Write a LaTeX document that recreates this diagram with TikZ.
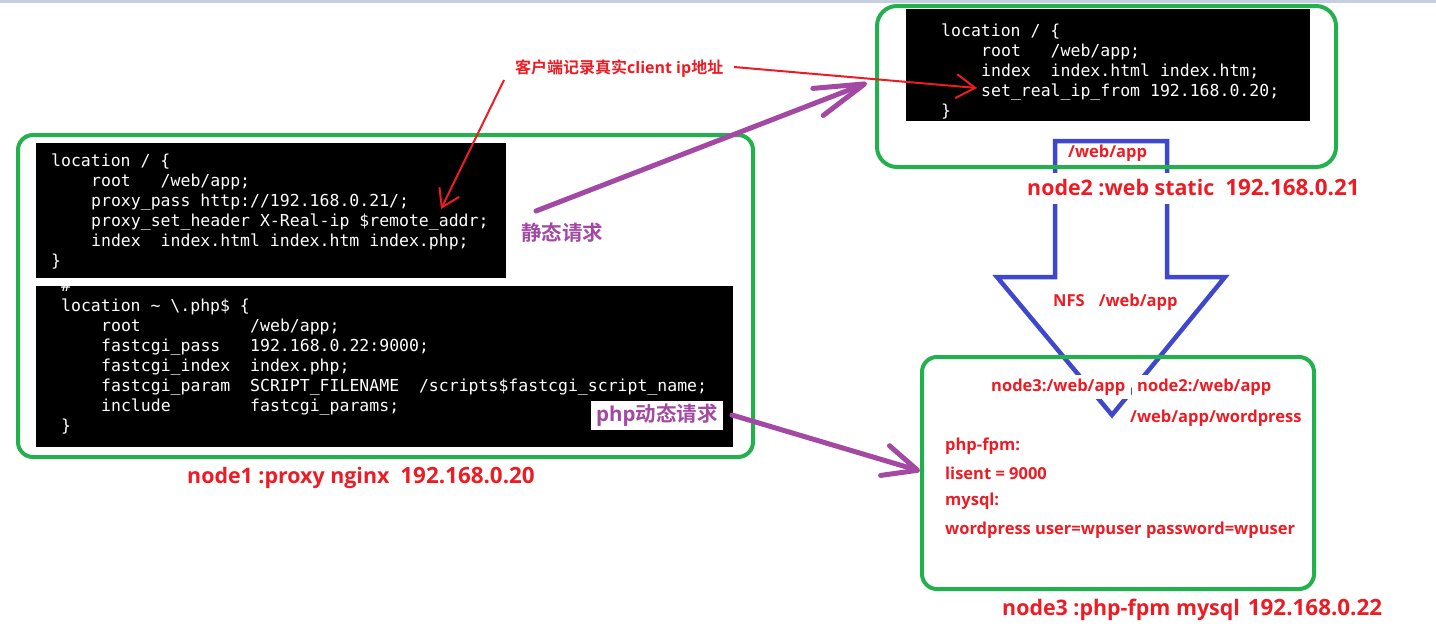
\documentclass[tikz,border=0pt]{standalone}
\usepackage{fontspec}
\usetikzlibrary{arrows.meta}
\setmainfont{Open Sans}
\newfontfamily\cjk{Noto Sans CJK SC}[BoldFont={Noto Sans CJK SC Bold}]
\newfontfamily\mono{DejaVu Sans Mono}
\definecolor{pgreen}{HTML}{22B14C}
\definecolor{pred}{HTML}{ED1C24}
\definecolor{ppurple}{HTML}{A349A4}
\definecolor{pblue}{HTML}{3F48CC}
\definecolor{topbar}{HTML}{C5CFE0}
\begin{document}
\begin{tikzpicture}[x=1pt,y=-1pt,
  greenbox/.style={draw=pgreen,line width=4pt,rounded corners=15pt,anchor=north west,inner sep=0pt},
  blackbox/.style={fill=black,anchor=north west,inner sep=0pt},
  codeline/.style={anchor=base west,inner sep=0pt,text=white,font=\mono\fontsize{16.5}{20}\selectfont},
  redlab/.style={anchor=west,inner sep=0pt,text=pred,font=\bfseries\fontsize{16.5}{19}\selectfont},
  biglab/.style={anchor=west,inner sep=0pt,text=pred,font=\bfseries\fontsize{21.4}{25}\selectfont},
  purplab/.style={anchor=west,inner sep=0pt,text=ppurple,font=\bfseries\fontsize{20.5}{24}\selectfont},
  redarrow/.style={draw=pred,line width=2pt},
  purparrow/.style={draw=ppurple,line width=5pt,line cap=round},
  bluearrow/.style={draw=pblue,line width=4.5pt,line join=miter}
]
\useasboundingbox (0,0) rectangle (1436,640);
\fill[topbar] (0,0) rectangle (1436,3);

% blue NFS block arrow
\draw[bluearrow] (1055,277) -- (1055,141) -- (1167,141) -- (1167,277) -- (1225,277)
  -- (1112,415) -- (997,277) -- cycle;

% green machine boxes
\node[greenbox,minimum width=735pt,minimum height=322pt] (n1box) at (16,133) {};
\node[greenbox,rounded corners=20pt,minimum width=459pt,minimum height=161pt] (n2box) at (875,4) {};
\node[greenbox,minimum width=392pt,minimum height=232pt] (n3box) at (920,355) {};

% black code boxes
\node[blackbox,minimum width=470pt,minimum height=135pt] (code1) at (36,143) {};
\node[blackbox,minimum width=697pt,minimum height=161pt] (code2) at (36,286) {};
\node[blackbox,minimum width=404pt,minimum height=112pt] (code3) at (906,9) {};

% code of node1, first block
\node[codeline] (a1) at (51,166) {location / \{};
\node[codeline] (a2) at (91,186) {root~~~/web/app;};
\node[codeline] (a3) at (91,206) {proxy\_pass http://192.168.0.21/;};
\node[codeline] (a4) at (91,226) {proxy\_set\_header X-Real-ip \$remote\_addr;};
\node[codeline] (a5) at (91,246) {index~~index.html index.htm index.php;};
\node[codeline] (a6) at (51,266) {\}};

% code of node1, second block
\begin{scope}
\clip (36,286) rectangle (733,447);
\node[codeline] (b0) at (61,291) {\#};
\end{scope}
\node[codeline] (b1) at (61,311) {location \textasciitilde\ \textbackslash.php\$ \{};
\node[codeline] (b2) at (101,331) {root~~~~~~~~~~~/web/app;};
\node[codeline] (b3) at (101,351) {fastcgi\_pass~~~192.168.0.22:9000;};
\node[codeline] (b4) at (101,371) {fastcgi\_index~~index.php;};
\node[codeline] (b5) at (101,391) {fastcgi\_param~~SCRIPT\_FILENAME~~/scripts\$fastcgi\_script\_name;};
\node[codeline] (b6) at (101,411) {include~~~~~~~~fastcgi\_params;};
\node[codeline] (b7) at (61,431) {\}};

% code of node2
\node[codeline] (c1) at (941,36) {location / \{};
\node[codeline] (c2) at (981,56) {root~~~/web/app;};
\node[codeline] (c3) at (981,76) {index~~index.html index.htm;};
\node[codeline] (c4) at (981,96) {set\_real\_ip\_from 192.168.0.20;};
\node[codeline] (c5) at (941,116) {\}};

% labels
\node[redlab,font=\bfseries\fontsize{16}{19}\selectfont] (client) at (515,69) {{\cjk\bfseries 客户端记录真实}client ip{\cjk\bfseries 地址}};
\node[purplab] (static) at (521,233) {\cjk\bfseries 静态请求};
\node[purplab,fill=white,inner xsep=5pt,minimum height=29pt] (dyn) at (591,415) {php{\cjk\bfseries 动态请求}};

\node[biglab] (n1lab) at (187,478) {node1 :proxy nginx\hspace{11pt}{\fontsize{22.4}{26}\selectfont 192.168.0.20}};
\node[biglab,fill=white,inner xsep=3pt,minimum height=31pt] (n2lab) at (1024,188) {node2 :web static\hspace{11pt}{\fontsize{22.4}{26}\selectfont 192.168.0.21}};
\node[biglab] (n3lab) at (1002,610) {node3 :php-fpm mysql\hspace{8pt}{\fontsize{22.4}{26}\selectfont 192.168.0.22}};

\node[redlab] (webapp) at (1068,153) {/web/app};
\node[redlab] (nfs) at (1053,302) {NFS\hspace{14pt}/web/app};
\node[redlab,fill=white,inner xsep=6pt,inner ysep=4pt] (m3) at (985,387) {node3:/web/app};
\node[redlab,fill=white,inner xsep=5pt,inner ysep=4pt] (m2) at (1132,387) {node2:/web/app};
\node[redlab] (wp) at (1130,418) {/web/app/wordpress};
\node[redlab] (t1) at (945,446) {php-fpm:};
\node[redlab] (t2) at (945,473) {lisent = 9000};
\node[redlab] (t3) at (945,501) {mysql:};
\node[redlab] (t4) at (945,530) {wordpress user=wpuser password=wpuser};

% arrows
\coordinate (r1s) at (504,80);
\coordinate (r1e) at (441,209);
\coordinate (r2s) at (734,67);
\coordinate (r2e) at (977,88);
\coordinate (p1s) at (536,211);
\coordinate (p1e) at (867,83);
\coordinate (p2s) at (732,415);
\coordinate (p2e) at (920,471);
\draw[redarrow,-{Straight Barb[length=17pt,width=22pt]}] (r1s) -- (r1e);
\draw[redarrow,-{Straight Barb[length=19pt,width=24pt]}] (r2s) -- (r2e);
\draw[purparrow,-{Straight Barb[length=50pt,width=29pt,round]}] (p1s) -- (p1e);
\draw[purparrow,-{Straight Barb[length=34pt,width=31pt,round]}] (p2s) -- (p2e);
\end{tikzpicture}
\end{document}
